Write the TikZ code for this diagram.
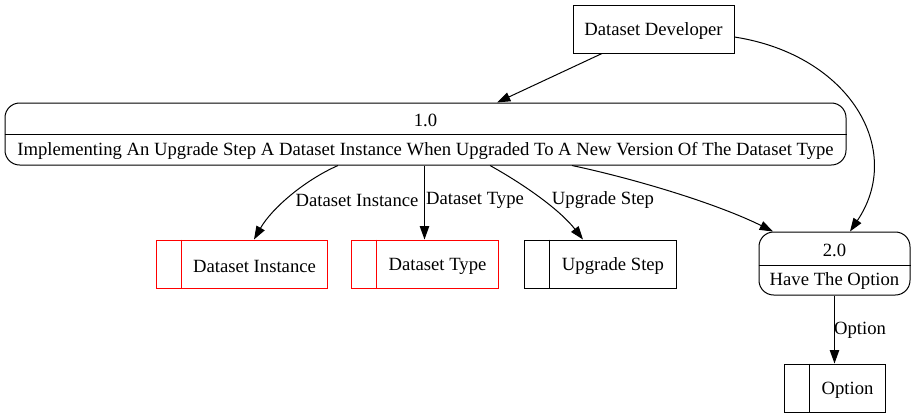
\documentclass[tikz,border=0pt]{standalone}
\usepackage{fontspec}
\setmainfont{Liberation Serif}
\usetikzlibrary{arrows.meta,calc}
\begin{document}
\begin{tikzpicture}[x=0.75pt,y=-0.75pt,
  every node/.style={font=\fontsize{14}{16}\selectfont, inner sep=0pt},
  txt/.style={yshift=-1.5pt},
  ext/.style={draw, line width=0.75pt, minimum width=120.75pt, minimum height=36pt},
  proc/.style={draw, line width=0.75pt, rounded corners=11pt},
  store/.style={draw, line width=0.75pt, minimum height=36pt},
  redstore/.style={store, draw=red},
  arr/.style={-{Triangle[length=10pt,width=7pt]}, line width=0.75pt},
  lbl/.style={txt, font=\fontsize{14}{16}\selectfont}]
\useasboundingbox (0,0) rectangle (915,419);

% external entity
\node[ext] (dev) at (653.5,29) {};
\node[txt] (devt) at (dev.center) {Dataset Developer};

% process 1.0
\node[proc, minimum width=630.75pt, minimum height=46.5pt] (p1) at (425.5,134) {};
\draw[line width=0.75pt] (p1.west) -- (p1.east);
\node[txt] (p1n) at (425.5,118) {1.0};
\node[txt] (p1t) at (425.5,149) {Implementing An Upgrade Step A Dataset Instance When Upgraded To A New Version Of The Dataset Type};

% process 2.0
\node[proc, minimum width=113.25pt, minimum height=47.25pt] (p2) at (834.5,263.5) {};
\draw[line width=0.75pt] ($(p2.west)+(0,1.5)$) -- ($(p2.east)+(0,1.5)$);
\node[txt] (p2n) at (834.5,248) {2.0};
\node[txt] (p2t) at (834.5,279.5) {Have The Option};

% data stores
\node[redstore, minimum width=128.25pt] (di) at (241.5,264) {};
\draw[red, line width=0.75pt] ($(di.north west)+(26,0)$) -- ($(di.south west)+(26,0)$);
\node[txt] (dit) at ($(di.center)+(13,0)$) {Dataset Instance};

\node[redstore, minimum width=110.25pt] (dt) at (424.5,264) {};
\draw[red, line width=0.75pt] ($(dt.north west)+(26,0)$) -- ($(dt.south west)+(26,0)$);
\node[txt] (dtt) at ($(dt.center)+(13,0)$) {Dataset Type};

\node[store, minimum width=114pt] (us) at (600,264) {};
\draw[line width=0.75pt] ($(us.north west)+(26,0)$) -- ($(us.south west)+(26,0)$);
\node[txt] (ust) at ($(us.center)+(13,0)$) {Upgrade Step};

\node[store, minimum width=75.75pt] (op) at (834.5,388) {};
\draw[line width=0.75pt] ($(op.north west)+(26,0)$) -- ($(op.south west)+(26,0)$);
\node[txt] (opt) at ($(op.center)+(13,0)$) {Option};

% connectors
\draw[arr] ($(dev.south)+(-51.5,0)$) -- ($(p1.north)+(71.5,0)$);
\draw[arr] ($(dev.east)+(0,8)$) .. controls (850,55) and (905,150) .. ($(p2.north)+(15.5,0)$);
\draw[arr] ($(p1.south)+(-87.5,0)$) .. controls (305,180) and (272,208) .. ($(di.north)+(12.5,0)$);
\node[lbl] (l1) at (357,198) {Dataset Instance};
\draw[arr] (dt.north |- p1.south) -- (dt.north);
\node[lbl] (l2) at (475,198) {Dataset Type};
\draw[arr] ($(p1.south)+(64.5,0)$) .. controls (525,185) and (560,210) .. ($(us.north)+(-17,0)$);
\node[lbl] (l3) at (603,198) {Upgrade Step};
\draw[arr] ($(p1.south)+(146.5,0)$) .. controls (640,180) and (720,205) .. ($(p2.north)+(-61.5,0)$);
\draw[arr] (p2.south) -- (op.north);
\node[lbl] (l4) at (860,328) {Option};
\end{tikzpicture}
\end{document}
